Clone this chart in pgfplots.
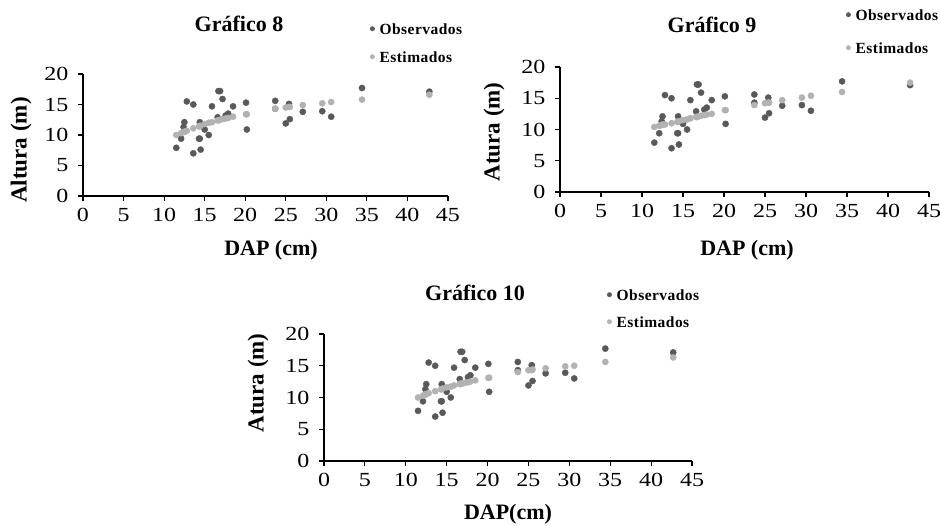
\documentclass[border=0pt]{standalone}
\usepackage{fontspec}
\setmainfont{Liberation Serif}
\newfontfamily\tickfont[FakeStretch=1.2]{Liberation Serif}
\newfontfamily\legfont[LetterSpace=3]{Liberation Serif}
\usepackage{pgfplots}
\usepackage{pgfplotstable}
\pgfplotsset{compat=1.18}
\definecolor{obs}{RGB}{89,89,89}
\definecolor{est}{RGB}{178,178,178}

% observed heights (same trees in all three panels)
\pgfplotstableread{
dap h
11.5 7.9
12.1 9.4
12.4 11.3
12.5 12.1
12.8 15.5
13.6 15.0
13.6 7.0
14.3 9.4
14.4 12.1
14.4 9.4
14.5 7.6
15.0 10.9
15.5 10.0
15.9 14.7
16.6 12.9
16.7 17.2
16.9 17.2
17.2 15.9
17.6 13.2
17.9 13.5
18.5 14.7
20.1 15.3
20.2 10.9
23.7 15.6
23.7 14.3
25.0 11.9
25.4 15.1
25.5 12.6
27.1 13.8
29.5 13.9
30.6 13.0
34.4 17.7
42.7 17.1
}\obs

% estimated, model 8
\pgfplotstableread{
dap h
11.5 10.0
12.1 10.3
12.4 10.5
12.5 10.5
12.8 10.7
13.6 11.1
14.3 11.4
14.4 11.5
14.5 11.5
15.0 11.8
15.5 12.0
15.9 12.1
16.6 12.4
16.7 12.4
16.9 12.5
17.2 12.6
17.6 12.7
17.9 12.8
18.5 13.0
20.1 13.4
20.2 13.4
23.7 14.3
25.0 14.5
25.4 14.6
25.5 14.6
27.1 14.9
29.5 15.2
30.6 15.4
34.4 15.8
42.7 16.6
}\estA

% estimated, model 9
\pgfplotstableread{
dap h
11.5 10.4
12.1 10.6
12.4 10.7
12.5 10.8
12.8 10.8
13.6 11.0
14.3 11.2
14.4 11.3
14.5 11.3
15.0 11.5
15.5 11.6
15.9 11.8
16.6 12.0
16.7 12.0
16.9 12.1
17.2 12.2
17.6 12.3
17.9 12.4
18.5 12.5
20.1 13.1
20.2 13.1
23.7 13.9
25.0 14.2
25.4 14.3
25.5 14.3
27.1 14.7
29.5 15.1
30.6 15.4
34.4 16.0
42.7 17.5
}\estB

% estimated, model 10
\pgfplotstableread{
dap h
11.5 10.0
12.1 10.3
12.4 10.5
12.5 10.5
12.8 10.7
13.6 11.0
14.3 11.3
14.4 11.3
14.5 11.4
15.0 11.6
15.5 11.7
15.9 11.9
16.6 12.1
16.7 12.2
16.9 12.2
17.2 12.3
17.6 12.4
17.9 12.5
18.5 12.7
20.1 13.1
20.2 13.1
23.7 14.0
25.0 14.3
25.4 14.3
25.5 14.4
27.1 14.6
29.5 14.9
30.6 15.0
34.4 15.6
42.7 16.3
}\estC

\pgfplotsset{
  painel/.style={
    scale only axis, anchor=south west, clip=false,
    xmin=0, xmax=45, ymin=0, ymax=20,
    xtick={0,5,...,45}, ytick={0,5,...,20},
    axis lines=left, axis line style={-, line width=1.1pt},
    tick style={black, line width=1.1pt}, major tick length=5pt, tick align=outside,
    ticklabel style={font=\tickfont\fontsize{20}{24}\selectfont},
    /pgf/number format/assume math mode=true,
    xticklabel style={yshift=-4pt},
    yticklabel style={xshift=-6pt},
    legend cell align=left,
    legend style={draw=none, fill=none, anchor=north west,
      font=\legfont\bfseries\fontsize{15.5}{18}\selectfont,
      nodes={text height=11pt, text depth=0pt, inner sep=0pt},
      column sep=5pt},
    legend image code/.code={\draw[##1, mark size=2.2pt] plot coordinates {(0pt,0pt)};},
  },
  obsplot/.style={only marks, mark=*, mark size=3.1pt, color=obs},
  estplot/.style={only marks, mark=*, mark size=3.1pt, color=est},
}

\begin{document}
\begin{tikzpicture}
\path[use as bounding box] (0,0) rectangle (940pt,525pt);

\begin{axis}[painel, at={(83pt,329pt)}, width=365pt, height=122pt,
  legend style={at={(0.778,1.434)}, row sep=17pt}]
\addplot[obsplot] table[x=dap, y=h] {\obs};
\addlegendentry{Observados}
\addplot[estplot] table[x=dap, y=h] {\estA};
\addlegendentry{Estimados}
\end{axis}

\begin{axis}[painel, at={(560pt,333pt)}, width=369pt, height=125pt,
  legend style={at={(0.767,1.48)}, row sep=22pt}]
\addplot[obsplot] table[x=dap, y=h] {\obs};
\addlegendentry{Observados}
\addplot[estplot] table[x=dap, y=h] {\estB};
\addlegendentry{Estimados}
\end{axis}

\begin{axis}[painel, at={(324pt,64pt)}, width=368pt, height=127pt,
  legend style={at={(0.761,1.37)}, row sep=16pt}]
\addplot[obsplot] table[x=dap, y=h] {\obs};
\addlegendentry{Observados}
\addplot[estplot] table[x=dap, y=h] {\estC};
\addlegendentry{Estimados}
\end{axis}

% titles
\node[font=\bfseries\fontsize{22}{26}\selectfont] at (239pt,501pt) {Gráfico 8};
\node[font=\bfseries\fontsize{22}{26}\selectfont] at (712pt,500pt) {Gráfico 9};
\node[font=\bfseries\fontsize{22}{26}\selectfont] at (475pt,232pt) {Gráfico 10};

% axis labels
\node[font=\bfseries\fontsize{23}{27}\selectfont, rotate=90] at (21pt,375pt) {Altura (m)};
\node[font=\bfseries\fontsize{22}{26}\selectfont] at (271pt,275pt) {DAP (cm)};
\node[font=\bfseries\fontsize{23}{27}\selectfont, rotate=90] at (494pt,393pt) {Atura (m)};
\node[font=\bfseries\fontsize{22}{26}\selectfont] at (747pt,275pt) {DAP (cm)};
\node[font=\bfseries\fontsize{23}{27}\selectfont, rotate=90] at (258pt,142pt) {Atura (m)};
\node[font=\bfseries\fontsize{22}{26}\selectfont] at (508pt,11pt) {DAP(cm)};
\end{tikzpicture}
\end{document}
